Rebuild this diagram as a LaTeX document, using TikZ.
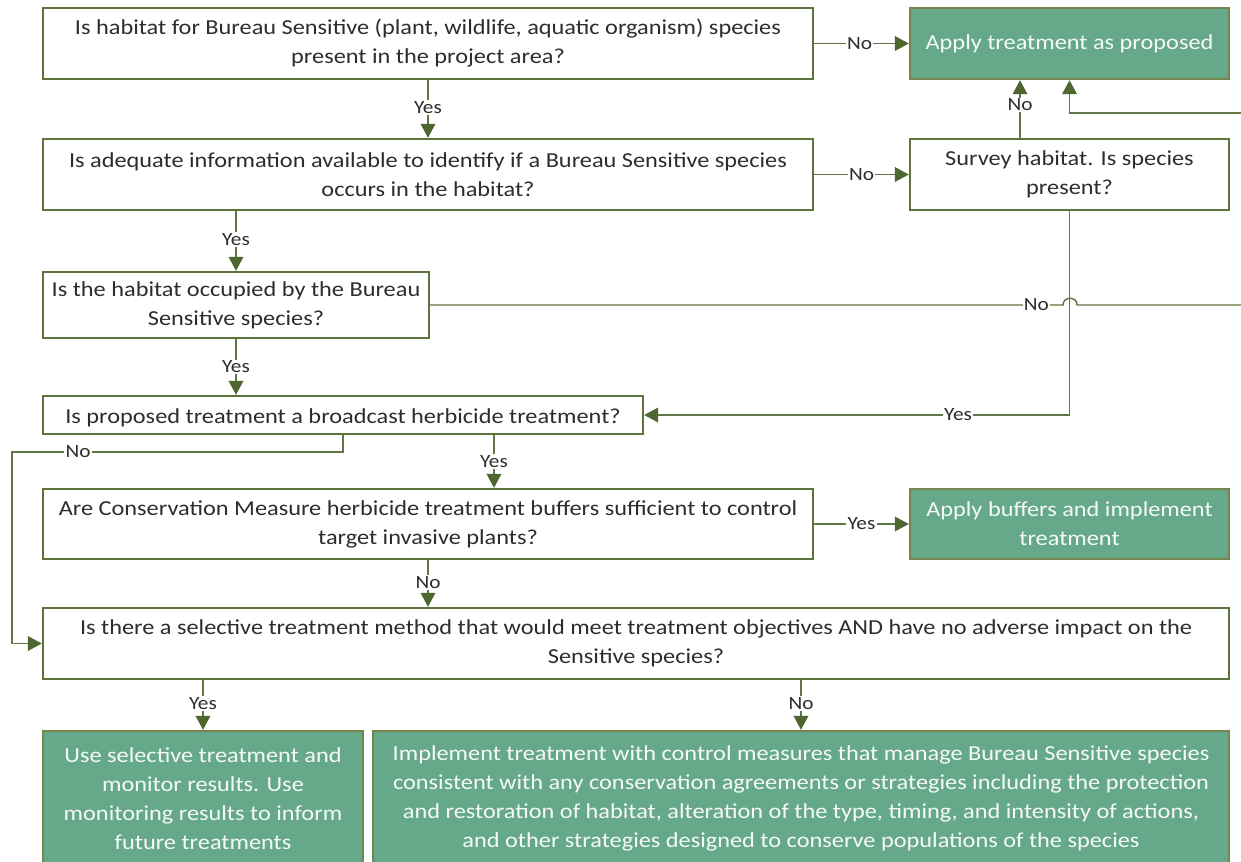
\documentclass[tikz,border=0pt]{standalone}
\usepackage{fontspec}
\setmainfont{Carlito}[FakeStretch=1.14]
\usetikzlibrary{arrows.meta}
\definecolor{bord}{RGB}{94,116,58}
\definecolor{gfill}{RGB}{102,168,138}
\definecolor{gbord}{RGB}{118,132,78}
\definecolor{conn}{RGB}{98,118,68}
\definecolor{arr}{RGB}{78,102,48}
\definecolor{tdark}{RGB}{45,45,45}
\definecolor{twhite}{RGB}{246,250,246}
\tikzset{
  qbox/.style={draw=bord, line width=1.8pt, fill=white, align=center, inner sep=0pt,
    text=tdark, font=\fontsize{16}{21.75}\selectfont},
  qtext/.style={qbox, execute at begin node={\rule{0pt}{15.5pt}}},
  gbox/.style={qbox, fill=gfill, draw=gbord, text=twhite},
  conline/.style={draw=conn, line width=1.1pt, -{Triangle[length=10.5pt,width=11pt,color=arr]}},
  plain/.style={draw=conn, line width=1.1pt},
  lab/.style={fill=white, inner sep=1pt, text=tdark, font=\fontsize{14}{15}\selectfont},
}
\begin{document}
\begin{tikzpicture}[x=0.75pt,y=-0.75pt]
\useasboundingbox (0,0) rectangle (1241,861);
\clip (0,0) rectangle (1241,861);
\fill[white] (0,0) rectangle (1241,861);

\node[qtext, minimum width=577.5pt, minimum height=53.25pt] (b1) at (428,43.5)
  {Is habitat for Bureau Sensitive (plant, wildlife, aquatic organism) species\\present in the project area?};
\node[gbox, minimum width=239.25pt, minimum height=53.25pt] (apply) at (1069.5,43.5)
  {Apply treatment as proposed};
\node[qtext, minimum width=577.5pt, minimum height=53.25pt] (b2) at (428,174.5)
  {Is adequate information available to identify if a Bureau Sensitive species\\occurs in the habitat?};
\node[qtext, minimum width=239.25pt, minimum height=53.25pt] (survey) at (1069.5,174.5)
  {Survey habitat. Is species\\present?};
\node[qtext, minimum width=289.5pt, minimum height=49.5pt] (b3) at (236,305)
  {Is the habitat occupied by the Bureau\\Sensitive species?};
\node[qtext, minimum width=450pt, minimum height=28.5pt] (b4) at (343,415)
  {Is proposed treatment a broadcast herbicide treatment?};
\node[qtext, minimum width=577.5pt, minimum height=52.5pt] (b5) at (428,524)
  {Are Conservation Measure herbicide treatment buffers sufficient to control\\target invasive plants?};
\node[gbox, minimum width=239.25pt, minimum height=52.5pt] (buffers) at (1069.5,524)
  {Apply buffers and implement\\treatment};
\node[qtext, minimum width=889.5pt, minimum height=53.25pt] (b6) at (636,643.5)
  {Is there a selective treatment method that would meet treatment objectives AND have no adverse impact on the\\Sensitive species?};
\node[gbox, minimum width=240pt, minimum height=101.25pt] (b7) at (203,798.5)
  {Use selective treatment and\\monitor results. Use\\monitoring results to inform\\future treatments};
\node[gbox, minimum width=642pt, minimum height=101.25pt] (b8) at (801,798.5)
  {Implement treatment with control measures that manage Bureau Sensitive species\\consistent with any conservation agreements or strategies including the protection\\and restoration of habitat, alteration of the type, timing, and intensity of actions,\\and other strategies designed to conserve populations of the species};

% coordinates
\coordinate (redge1) at (1241,113);
\coordinate (redge2) at (1241,305);
\coordinate (hopL) at (1063,305);
\coordinate (hopR) at (1077,305);
\coordinate (leftX) at (12,452);

% b1 -> apply
\draw[conline] (b1.east) -- node[lab, pos=0.48]{No} (apply.west);
% b1 -> b2
\draw[conline] (b1.south) -- node[lab, pos=0.47]{Yes} (b2.north);
% b2 -> survey
\draw[conline] (b2.east) -- node[lab, pos=0.5]{No} (survey.west);
% survey -> apply (No)
\draw[conline] ([xshift=-49.5*0.75pt]survey.north) -- node[lab, pos=0.57]{No} ([xshift=-49.5*0.75pt]apply.south);
% right edge -> apply
\draw[conline] (redge1) -| (apply.south);
% b2 -> b3
\draw[conline] (b2.south -| b3.south) -- node[lab, pos=0.47]{Yes} (b3.north);
% b3 -> b4
\draw[conline] (b3.south) -- node[lab, pos=0.5]{Yes} (b4.north -| b3.south);
% b3 No -> right edge with hop
\draw[plain] (b3.east) -- node[lab, pos=0.958]{No} (hopL)
  .. controls (1063,296) and (1077,296) .. (hopR) -- (redge2);
% survey -> b4 (Yes)
\draw[conline] (survey.south) |- node[lab, pos=0.631]{Yes} (b4.east);
% b4 -> b5 (Yes)
\draw[conline] ([xshift=151*0.75pt]b4.south) -- node[lab, pos=0.5]{Yes} ([xshift=66*0.75pt]b5.north);
% b4 -> b6 (No)
\draw[conline] (b4.south) |- node[lab, pos=0.9]{No} (leftX) |- (b6.west);
% b5 -> b6 (No)
\draw[conline] (b5.south) -- node[lab, pos=0.47]{No} (b6.north -| b5.south);
% b5 -> buffers (Yes)
\draw[conline] (b5.east) -- node[lab, pos=0.5]{Yes} (buffers.west);
% b6 -> b7
\draw[conline] (b6.south -| b7.north) -- node[lab, pos=0.47]{Yes} (b7.north);
% b6 -> b8
\draw[conline] (b6.south -| b8.north) -- node[lab, pos=0.47]{No} (b8.north);
\end{tikzpicture}
\end{document}
